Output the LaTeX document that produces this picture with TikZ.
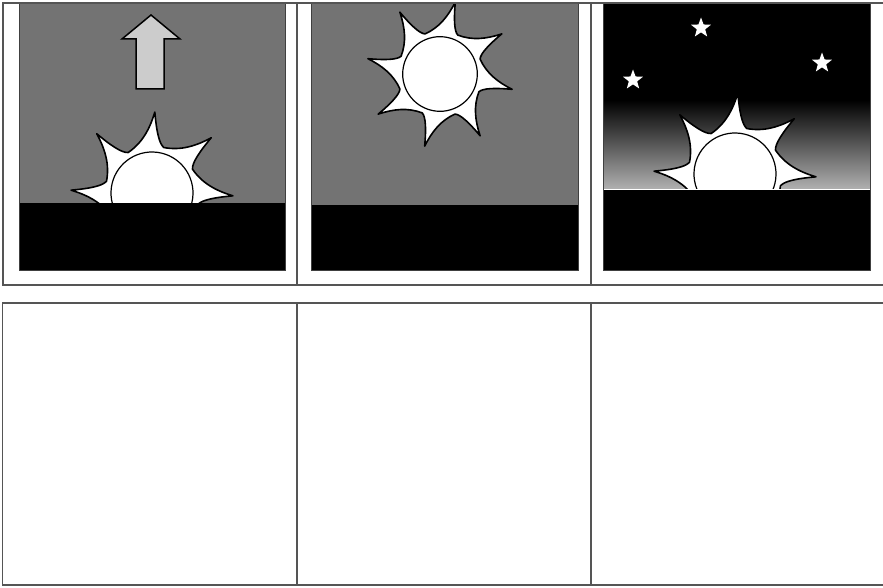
\documentclass[tikz,border=0pt]{standalone}
\usetikzlibrary{shapes.geometric}

\definecolor{skygray}{RGB}{115,115,115}
\definecolor{arrowgray}{RGB}{204,204,204}
\definecolor{horizongray}{RGB}{178,178,178}
\definecolor{linegray}{RGB}{85,85,85}

\tikzset{
  pics/sun/.style={code={
    % eight curved rays, then the disc on top
    \filldraw[fill=white, draw=black, line width=1.6pt, line join=round]
      (-12.5:47) \foreach \t in {0,45,...,315} {
        .. controls (\t-6:50) and (\t-2:63) .. (\t:81)
        .. controls (\t+4:64) and (\t+13:51) .. (\t+32.5:47)
      } -- cycle;
    \filldraw[fill=white, draw=black, line width=1.2pt] (0,0) circle (41);
  }},
  table line/.style={draw=linegray, line width=1.3pt},
  panel frame/.style={draw=black!75, line width=0.8pt},
  night star/.style={star, star points=5, star point ratio=2.4,
    fill=white, inner sep=0pt, minimum size=21pt}
}

\begin{document}
\begin{tikzpicture}[x=1pt, y=1pt]
  \useasboundingbox (0,0) rectangle (883,587);

  % sun coming up
  \begin{scope}
    \clip (19,317) rectangle (285,584);
    \fill[skygray] (19,384) rectangle (285,584);
    % Arrow pointing up
    \filldraw[fill=arrowgray, draw=black, line width=1.5pt]
      (151,572) -- (180,548) -- (164,548) -- (164,498)
      -- (136,498) -- (136,548) -- (122,548) -- cycle;
    \pic[rotate=-2] (sunA) at (152,394) {sun};
    \fill[black] (19,317) rectangle (285,384);
  \end{scope}
  \draw[panel frame] (19,317) rectangle (285,584);

  % sun high up
  \begin{scope}
    \clip (311,317) rectangle (578,584);
    \fill[skygray] (311,382) rectangle (578,584);
    \pic[rotate=-12, scale=0.91] (sunB) at (440,513) {sun};
    \fill[black] (311,317) rectangle (578,382);
  \end{scope}
  \draw[panel frame] (311,317) rectangle (578,584);

  % sun going down, stars out
  \begin{scope}
    \clip (603,317) rectangle (870,584);
    \fill[black] (603,487) rectangle (870,584);
    \shade[top color=black, bottom color=horizongray] (603,397) rectangle (870,487);
    \node[night star] (starA) at (701,559) {};
    \node[night star] (starB) at (633,507) {};
    \node[night star] (starC) at (822,524) {};
    \pic[rotate=-2] (sunC) at (735,413) {sun};
    \fill[black] (603,317) rectangle (870,396.5);
    \draw[white, line width=1pt] (603,397) -- (870,397);
  \end{scope}
  \draw[panel frame] (603,317) rectangle (870,584);

  % table round the pictures
  \draw[table line] (883,584) -- (3,584) -- (3,302) -- (883,302);
  \draw[table line] (297,584) -- (297,302) (591,584) -- (591,302);

  % empty row below
  \draw[table line] (883,284) -- (2.5,284) -- (2.5,2) -- (883,2);
  \draw[table line] (297,284) -- (297,2) (591,284) -- (591,2);
\end{tikzpicture}
\end{document}
